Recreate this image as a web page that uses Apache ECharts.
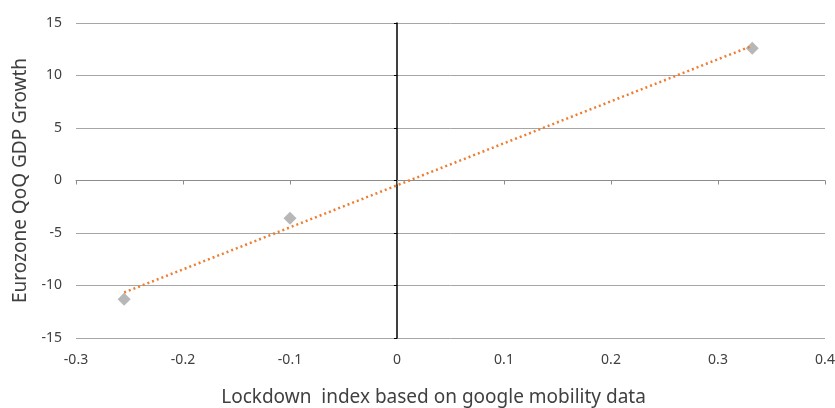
<!DOCTYPE html>
<html>
<head>
<meta charset="utf-8">
<script src="https://cdn.jsdelivr.net/npm/echarts@6/dist/echarts.min.js"></script>
<style>html,body{margin:0;padding:0;background:#fff;}#c{width:835px;height:408px;}</style>
</head>
<body>
<div id="c"></div>
<script>
// Data
var lockdownIndex = [-0.255, -0.1, 0.332];
var gdpGrowth = [-11.3, -3.6, 12.6];
var xTicks = { min: -0.3, max: 0.4, interval: 0.1 };
var yTicks = { min: -15, max: 15, interval: 5 };
var xName = 'Lockdown  index based on google mobility data';
var yName = 'Eurozone QoQ GDP Growth';

// Linear trendline (least squares) computed from the data
function linReg(xs, ys) {
  var n = xs.length, mx = 0, my = 0;
  for (var i = 0; i < n; i++) { mx += xs[i]; my += ys[i]; }
  mx /= n; my /= n;
  var sxy = 0, sxx = 0;
  for (var j = 0; j < n; j++) { sxy += (xs[j]-mx)*(ys[j]-my); sxx += (xs[j]-mx)*(xs[j]-mx); }
  var b = sxy / sxx, a = my - b * mx;
  return { a: a, b: b };
}
var fit = linReg(lockdownIndex, gdpGrowth);
var xMinD = Math.min.apply(null, lockdownIndex), xMaxD = Math.max.apply(null, lockdownIndex);
var trend = [[xMinD, fit.a + fit.b * xMinD], [xMaxD, fit.a + fit.b * xMaxD]];
var points = lockdownIndex.map(function (x, i) { return [x, gdpGrowth[i]]; });

var font = '"Noto Sans", sans-serif';
var textColor = '#404040';
var chart = echarts.init(document.getElementById('c'));
chart.setOption({
  animation: false,
  grid: { left: 76, right: 10, top: 23, bottom: 70, containLabel: false, outerBoundsMode: 'none' },
  xAxis: [
    {
      type: 'value', min: xTicks.min, max: xTicks.max, interval: xTicks.interval,
      position: 'bottom',
      axisLine: { show: false, onZero: false },
      axisTick: { show: false },
      splitLine: { show: false },
      axisLabel: { color: textColor, fontFamily: font, fontSize: 14, margin: 15,
        formatter: function (v) { return String(Math.round(v * 10) / 10); } },
      name: xName, nameLocation: 'middle', nameGap: 50,
      nameTextStyle: { color: textColor, fontFamily: font, fontSize: 19, padding: [0, 34, 0, 0] }
    },
    {
      type: 'value', min: xTicks.min, max: xTicks.max, interval: xTicks.interval,
      position: 'bottom',
      axisLine: { show: true, onZero: true, lineStyle: { color: '#8c8c8c', width: 1 } },
      axisTick: { show: true, length: 4, lineStyle: { color: '#8c8c8c' } },
      axisLabel: { show: false },
      splitLine: { show: false }
    }
  ],
  yAxis: [
    {
      type: 'value', min: yTicks.min, max: yTicks.max, interval: yTicks.interval,
      position: 'left',
      axisLine: { show: false, onZero: false },
      axisTick: { show: false },
      splitLine: { show: true, lineStyle: { color: '#a6a6a6', width: 1 } },
      axisLabel: { color: textColor, fontFamily: font, fontSize: 14, margin: 14 },
      name: yName, nameLocation: 'middle', nameGap: 46,
      nameTextStyle: { color: textColor, fontFamily: font, fontSize: 19 }
    },
    {
      type: 'value', min: yTicks.min, max: yTicks.max, interval: yTicks.interval,
      position: 'left',
      axisLine: { show: true, onZero: true, lineStyle: { color: '#000000', width: 1.5 } },
      axisTick: { show: true, length: 3, lineStyle: { color: '#000000' } },
      axisLabel: { show: false },
      splitLine: { show: false }
    }
  ],
  series: [
    {
      type: 'scatter', xAxisIndex: 0, yAxisIndex: 0,
      data: points, symbol: 'diamond', symbolSize: 13,
      itemStyle: { color: '#a5a5a5' }, z: 3
    },
    {
      type: 'line', xAxisIndex: 0, yAxisIndex: 0,
      data: trend, showSymbol: false, symbol: 'none',
      lineStyle: { color: '#ED7D31', width: 2.5, type: [2, 3] }, z: 4
    }
  ]
});
</script>
</body>
</html>
